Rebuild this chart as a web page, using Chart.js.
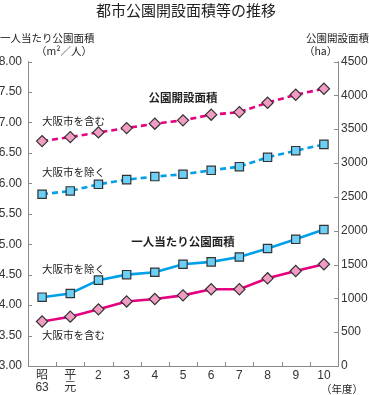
<!DOCTYPE html>
<html lang="ja">
<head>
<meta charset="utf-8">
<title>都市公園開設面積等の推移</title>
<script src="https://cdn.jsdelivr.net/npm/chart.js@4/dist/chart.umd.min.js"></script>
<style>
  html, body { margin: 0; padding: 0; background: #fff; }
  #wrap { position: relative; width: 369px; height: 395px; }
</style>
</head>
<body>
<div id="wrap"><canvas id="parkChart" width="369" height="395"></canvas></div>
<script>
// Fiscal years (昭和63 .. 平成10)
const years = [['昭', '63'], ['平', '元'], '2', '3', '4', '5', '6', '7', '8', '9', '10'];

// m2 per person (left axis)
const perCapitaExclOsaka = [4.13, 4.19, 4.41, 4.50, 4.54, 4.67, 4.71, 4.79, 4.93, 5.08, 5.24];
const perCapitaInclOsaka = [3.73, 3.81, 3.93, 4.06, 4.10, 4.16, 4.26, 4.26, 4.44, 4.56, 4.67];

// opened park area in ha (right axis)
const parkAreaExclOsaka = [2538, 2587, 2685, 2754, 2799, 2833, 2892, 2946, 3084, 3182, 3275];
const parkAreaInclOsaka = [3324, 3383, 3452, 3516, 3581, 3630, 3714, 3752, 3891, 4009, 4097];

// axis ranges
const leftMin = 3, leftMax = 8, leftStep = 0.5;
const rightMin = 0, rightMax = 4500, rightStep = 500;

// in-chart labels: x = category index, y = left axis value
const notes = [
    { text: '公園開設面積', x: 5, y: 7.41, align: 'center', bold: true },
    { text: '大阪市を含む', x: 0, y: 7.03, align: 'left' },
    { text: '大阪市を除く', x: 0, y: 6.19, align: 'left' },
    { text: '一人当たり公園面積', x: 5, y: 5.04, align: 'center', bold: true },
    { text: '大阪市を除く', x: 0, y: 4.60, align: 'left' },
    { text: '大阪市を含む', x: 0, y: 3.51, align: 'left' }
];

const MAGENTA = '#e4007f';
const PINK = '#f29cc4';
const CYAN = '#00a0e9';
const LIGHT_BLUE = '#6ccff5';
const EDGE = '#333333';
const AXIS = '#8a8a8a';
const JP = '"Noto Sans CJK JP", "Noto Sans", sans-serif';
const NUM = '"Liberation Sans", "Noto Sans CJK JP", sans-serif';

// draws inner tick marks and all the free text
const decorations = {
    id: 'decorations',
    afterDraw(chart) {
        const ctx = chart.ctx;
        const area = chart.chartArea;
        const x = chart.scales.x;
        const y = chart.scales.y;
        const y1 = chart.scales.y1;

        ctx.save();
        ctx.strokeStyle = AXIS;
        ctx.lineWidth = 1;
        ctx.beginPath();
        for (let v = leftMin; v <= leftMax; v += leftStep) {
            const py = Math.round(y.getPixelForValue(v)) + 0.5;
            ctx.moveTo(area.left, py);
            ctx.lineTo(area.left + 4, py);
        }
        for (let v = rightMin; v <= rightMax; v += rightStep) {
            const py = Math.round(y1.getPixelForValue(v)) + 0.5;
            ctx.moveTo(area.right - 4, py);
            ctx.lineTo(area.right, py);
        }
        for (let i = 0; i < years.length - 1; i++) {
            const px = Math.round(x.getPixelForValue(i + 0.5)) + 0.5;
            ctx.moveTo(px, area.bottom);
            ctx.lineTo(px, area.bottom - 4);
        }
        ctx.stroke();

        ctx.fillStyle = '#222';
        ctx.textBaseline = 'middle';

        // title
        ctx.font = '15px ' + JP;
        ctx.textAlign = 'center';
        ctx.fillText('都市公園開設面積等の推移', 186, 10);

        // axis titles
        ctx.font = '10.5px ' + JP;
        ctx.textAlign = 'left';
        ctx.fillText('一人当たり公園面積', 0, 38);
        ctx.fillText('（m²／人）', 36, 51);
        ctx.textAlign = 'right';
        ctx.fillText('公園開設面積', 369, 38);
        ctx.textAlign = 'left';
        ctx.fillText('（ha）', 304, 51);

        // fiscal year unit under the last category
        ctx.font = '10.5px ' + JP;
        ctx.textAlign = 'center';
        ctx.fillText('（年度）', 342, 389);

        // series labels
        notes.forEach(n => {
            ctx.font = (n.bold ? 'bold 11.5px ' : '10.5px ') + JP;
            ctx.textAlign = n.align;
            ctx.fillText(n.text, x.getPixelForValue(n.x), y.getPixelForValue(n.y));
        });
        ctx.restore();
    }
};

function lineSet(data, axis, color, fill, style, dashed) {
    return {
        data: data,
        yAxisID: axis,
        borderColor: color,
        borderWidth: 2.6,
        borderDash: dashed ? [6, 4] : [],
        pointStyle: style,
        pointRadius: style === 'rectRot' ? 5.6 : 5.9,
        pointBackgroundColor: fill,
        pointBorderColor: EDGE,
        pointBorderWidth: 1.2,
        tension: 0,
        fill: false
    };
}

new Chart(document.getElementById('parkChart'), {
    type: 'line',
    data: {
        labels: years,
        datasets: [
            lineSet(parkAreaInclOsaka, 'y1', MAGENTA, PINK, 'rectRot', true),
            lineSet(parkAreaExclOsaka, 'y1', CYAN, LIGHT_BLUE, 'rect', true),
            lineSet(perCapitaExclOsaka, 'y', CYAN, LIGHT_BLUE, 'rect', false),
            lineSet(perCapitaInclOsaka, 'y', MAGENTA, PINK, 'rectRot', false)
        ]
    },
    options: {
        responsive: false,
        animation: false,
        layout: { padding: { top: 61.5, left: 0, right: 0, bottom: 0 } },
        plugins: {
            legend: { display: false },
            tooltip: { enabled: false }
        },
        scales: {
            x: {
                offset: true,
                grid: { display: false, drawTicks: false, offset: true },
                border: { display: true, color: AXIS, width: 1 },
                ticks: {
                    color: '#333',
                    font: { family: NUM, size: 12, lineHeight: 1.05 },
                    padding: 3,
                    maxRotation: 0,
                    autoSkip: false
                },
                afterFit: s => { s.height = 29; }
            },
            y: {
                position: 'left',
                min: leftMin,
                max: leftMax,
                grid: { display: false, drawTicks: false },
                border: { display: true, color: AXIS, width: 1 },
                ticks: {
                    stepSize: leftStep,
                    color: '#333',
                    font: { family: NUM, size: 12 },
                    padding: 6,
                    callback: v => v.toFixed(2)
                },
                afterFit: s => { s.width = 28; }
            },
            y1: {
                position: 'right',
                min: rightMin,
                max: rightMax,
                grid: { display: false, drawTicks: false },
                border: { display: true, color: AXIS, width: 1 },
                ticks: {
                    stepSize: rightStep,
                    color: '#333',
                    font: { family: NUM, size: 12 },
                    padding: 3,
                    callback: v => String(v)
                },
                afterFit: s => { s.width = 31; }
            }
        }
    },
    plugins: [decorations]
});
</script>
</body>
</html>
